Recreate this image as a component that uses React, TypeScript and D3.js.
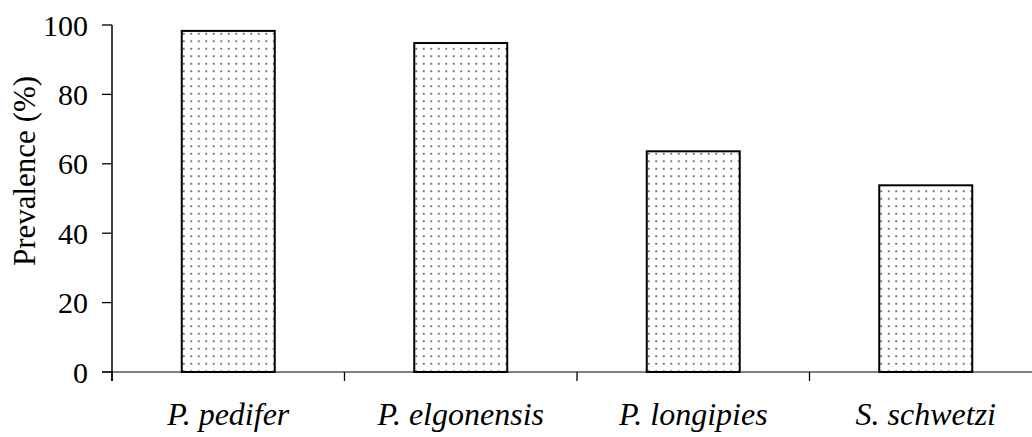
import React from 'react';
import * as d3 from 'd3';

const species = ['P. pedifer', 'P. elgonensis', 'P. longipies', 'S. schwetzi'];
const prevalence = [98.3, 94.8, 63.6, 53.8];
const yTicks = [0, 20, 40, 60, 80, 100];

const W = 1032;
const H = 437;
const margin = { top: 25, right: -10, bottom: 65, left: 112 };
const serif = "'Liberation Serif', serif";

const App: React.FC = () => {
  const x = d3.scaleBand<string>()
    .domain(species)
    .range([margin.left, W - margin.right])
    .paddingInner(0.6)
    .paddingOuter(0.3);

  const y = d3.scaleLinear()
    .domain([0, 100])
    .range([H - margin.bottom, margin.top]);

  const step = x.step();
  const x0 = margin.left;
  const y0 = y(0);

  return (
    <div style={{ position: 'absolute', left: 0, top: 0 }}>
      <svg width={W} height={H} style={{ display: 'block', background: '#fff' }}>
        <defs>
          <pattern id="dots" width={7.5} height={7.5} patternUnits="userSpaceOnUse">
            <rect width={7.5} height={7.5} fill="#fff" />
            <circle cx={3.75} cy={3.75} r={0.85} fill="#333" />
          </pattern>
        </defs>

        {/* x axis (gray) */}
        <line x1={x0 - 10} x2={W} y1={y0} y2={y0} stroke="#808080" strokeWidth={2} />
        {d3.range(species.length + 1).map(i => (
          <line key={`xt-${i}`} x1={x0 + i * step} x2={x0 + i * step} y1={y0} y2={y0 + 9}
            stroke="#000" strokeWidth={1.3} />
        ))}

        {/* bars */}
        {species.map((s, i) => (
          <rect key={s}
            x={x(s)} y={y(prevalence[i])}
            width={x.bandwidth()} height={y0 - y(prevalence[i])}
            fill="url(#dots)" stroke="#000" strokeWidth={2} />
        ))}

        {/* y axis */}
        <line x1={x0} x2={x0} y1={y(100)} y2={y0 + 9} stroke="#000" strokeWidth={1.5} />
        {yTicks.map(t => (
          <g key={`yt-${t}`}>
            <line x1={x0 - 10} x2={x0} y1={y(t)} y2={y(t)} stroke="#000" strokeWidth={1.3} />
            <text x={x0 - 24} y={y(t)} dy="0.35em" textAnchor="end"
              style={{ fontFamily: serif, fontSize: 30 }}>{t}</text>
          </g>
        ))}

        {/* category labels */}
        {species.map(s => (
          <text key={`lbl-${s}`} x={x(s)! + x.bandwidth() / 2} y={425} textAnchor="middle"
            style={{ fontFamily: serif, fontSize: 32, fontStyle: 'italic' }}>{s}</text>
        ))}

        {/* y label */}
        <text transform="translate(35, 171) rotate(-90)" textAnchor="middle"
          style={{ fontFamily: serif, fontSize: 31 }}>Prevalence (%)</text>
      </svg>
    </div>
  );
};

export default App;
